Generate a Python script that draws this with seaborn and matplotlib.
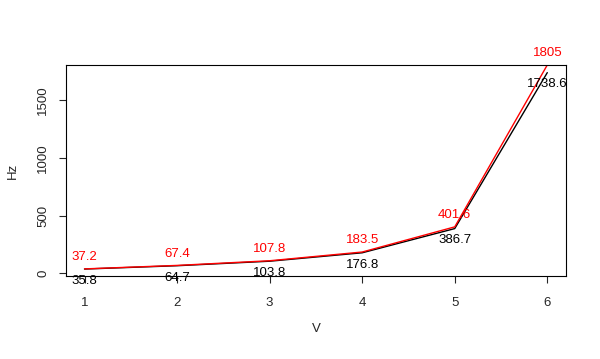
import numpy as np
import pandas as pd
import matplotlib
matplotlib.use("Agg")
import matplotlib.pyplot as plt
import seaborn as sns

# values
V = [1, 2, 3, 4, 5, 6]
hz_red = [37.2, 67.4, 107.8, 183.5, 401.6, 1805]
hz_black = [35.8, 64.7, 103.8, 176.8, 386.7, 1738.6]
red_labels = ["37.2", "67.4", "107.8", "183.5", "401.6", "1805"]
black_labels = ["35.8", "64.7", "103.8", "176.8", "386.7", "1738.6"]

sns.set_style("ticks")
plt.rcParams["font.family"] = ["Liberation Sans", "DejaVu Sans"]

df = pd.DataFrame({"V": V, "red": hz_red, "black": hz_black})

fig = plt.figure(figsize=(6.0, 3.59), dpi=100)
ax = fig.add_axes([0.11, 0.231, 0.833, 0.588])

sns.lineplot(data=df, x="V", y="black", color="black", linewidth=1, ax=ax)
sns.lineplot(data=df, x="V", y="red", color="#FF0000", linewidth=1, ax=ax)

for x, y, t in zip(V, hz_red, red_labels):
    ax.annotate(t, (x, y), xytext=(0, 8.5), textcoords="offset points",
                ha="center", va="center", color="#FF0000", fontsize=9.5)
for x, y, t in zip(V, hz_black, black_labels):
    ax.annotate(t, (x, y), xytext=(0, -8.5), textcoords="offset points",
                ha="center", va="center", color="black", fontsize=9.5)

ax.set_xlim(0.8, 6.2)
ax.set_ylim(-25, 1805)
ax.set_xticks(V)
ax.set_yticks([0, 500, 1000, 1500])
ax.tick_params(axis="x", labelsize=9.5, length=5, width=0.8, pad=10)
ax.tick_params(axis="y", labelsize=9.5, length=5, width=0.8, pad=7)
plt.setp(ax.get_yticklabels(), rotation=90, va="center")

for s in ax.spines.values():
    s.set_visible(True)
    s.set_linewidth(0.8)
    s.set_color("black")

ax.set_xlabel("V", fontsize=9.5, labelpad=10)
ax.set_ylabel("Hz", fontsize=9.5, labelpad=13)

fig.savefig("out.png", dpi=100)
